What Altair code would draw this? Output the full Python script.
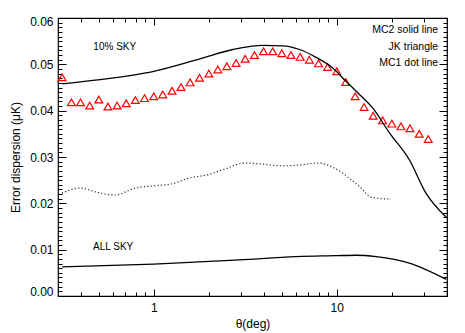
import altair as alt
import pandas as pd

# ---- data ----
jk_theta = [0.316, 0.355, 0.398, 0.447, 0.501, 0.562, 0.631, 0.708, 0.794, 0.891,
            1.0, 1.12, 1.26, 1.41, 1.58, 1.78, 2.0, 2.24, 2.51, 2.82,
            3.16, 3.55, 3.98, 4.47, 5.01, 5.62, 6.31, 7.08, 7.94, 8.91,
            10.0, 11.2, 12.6, 14.1, 15.8, 17.8, 20.0, 22.4, 25.1, 28.2, 31.6]
jk_value = [0.0472, 0.0418, 0.0418, 0.0411, 0.0424, 0.0409, 0.0411, 0.0416, 0.0423, 0.0427,
            0.0431, 0.0435, 0.0443, 0.0451, 0.0461, 0.0471, 0.0480, 0.0489, 0.0496, 0.0503,
            0.0512, 0.0520, 0.0528, 0.0528, 0.0524, 0.0520, 0.0516, 0.0510, 0.0502, 0.0494,
            0.0485, 0.0462, 0.0431, 0.0408, 0.0389, 0.0379, 0.0372, 0.0366, 0.0362, 0.0350, 0.0339]

mc2_theta = [0.316, 0.51, 1.0, 1.79, 2.71, 3.96, 5.08, 6.26, 7.71, 9.51, 11.25, 13.3, 15.7, 19.4, 24.9, 30.7, 39.6]
mc2_value = [0.0458, 0.0467, 0.0485, 0.0512, 0.0532, 0.0541, 0.0540, 0.0532, 0.0515, 0.0492, 0.0463,
             0.0435, 0.0406, 0.0352, 0.0294, 0.0222, 0.0170]

mc1_theta = [0.315, 0.397, 0.499, 0.616, 0.791, 1.016, 1.253, 1.543, 1.982, 2.445, 3.14, 3.87,
             4.98, 6.40, 7.88, 9.71, 11.98, 13.58, 15.39, 19.78]
mc1_value = [0.0222, 0.0233, 0.0223, 0.0218, 0.0233, 0.0238, 0.0242, 0.0254, 0.0262, 0.0274, 0.0287,
             0.0285, 0.0281, 0.0283, 0.0287, 0.0276, 0.0251, 0.0233, 0.0213, 0.0209]

all_theta = [0.316, 1.0, 2.95, 6.0, 9.94, 12.75, 16.4, 24.9, 39.6]
all_value = [0.0063, 0.0069, 0.0078, 0.0085, 0.0087, 0.0088, 0.0085, 0.0071, 0.0036]

x_major = [1, 10]
x_minor = [0.4, 0.5, 0.6, 0.7, 0.8, 0.9, 2, 3, 4, 5, 6, 7, 8, 9, 20, 30, 40]
y_major = [0.0, 0.01, 0.02, 0.03, 0.04, 0.05, 0.06]
y_minor = [round(i * 0.001, 3) for i in range(61) if i % 10 != 0]

left_text = ["10% SKY", "ALL SKY"]
left_theta = [0.468, 0.466]
left_value = [0.0538, 0.0106]
right_text = ["MC2 solid line", "JK triangle", "MC1 dot line"]
right_theta = [35.8, 35.8, 35.8]
right_value = [0.0574, 0.0538, 0.0502]

W, H = 389, 278
FONT = "Liberation Sans"

jk = pd.DataFrame({"theta": jk_theta, "value": jk_value})
mc2 = pd.DataFrame({"theta": mc2_theta, "value": mc2_value})
mc1 = pd.DataFrame({"theta": mc1_theta, "value": mc1_value})
alls = pd.DataFrame({"theta": all_theta, "value": all_value})
ltxt = pd.DataFrame({"label": left_text, "theta": left_theta, "value": left_value})
rtxt = pd.DataFrame({"label": right_text, "theta": right_theta, "value": right_value})

xs = alt.Scale(type="log", domain=[0.3, 40], nice=False)
ys = alt.Scale(domain=[0, 0.06], nice=False, zero=False)

common = dict(domain=False, grid=False, title="", labels=False, ticks=True,
              tickColor="black", tickWidth=1)

# axes
x_lab = alt.Axis(orient="bottom", values=x_major, format="d", ticks=False, tickSize=0, domain=False,
                 grid=False, labelFontSize=12, labelFont=FONT, labelColor="black", labelPadding=6,
                 title="θ(deg)", titleFont=FONT, titleFontSize=12, titleFontWeight="normal",
                 titlePadding=5, titleColor="black")
y_lab = alt.Axis(orient="left", values=y_major, format=".2f", ticks=False, tickSize=0, domain=False,
                 grid=False, labelFontSize=12, labelFont=FONT, labelColor="black", labelPadding=5,
                 labelFlush=True, labelFlushOffset=2,
                 title="Error dispersion (μK)", titleFont=FONT, titleFontSize=12,
                 titleFontWeight="normal", titlePadding=7, titleColor="black")

x_maj_b = alt.Axis(orient="top", offset=-H, values=x_major, tickSize=7, **common)
y_maj_l = alt.Axis(orient="right", offset=-W, values=y_major, tickSize=8, **common)
x_min_b = alt.Axis(orient="top", offset=-H, values=x_minor, tickSize=4, **common)
y_min_l = alt.Axis(orient="right", offset=-W, values=y_minor, tickSize=4, **common)
x_maj_t = alt.Axis(orient="bottom", offset=-H, values=x_major, tickSize=7, **common)
y_maj_r = alt.Axis(orient="left", offset=-W, values=y_major, tickSize=8, **common)
x_min_t = alt.Axis(orient="bottom", offset=-H, values=x_minor, tickSize=4, **common)
y_min_r = alt.Axis(orient="left", offset=-W, values=y_minor, tickSize=4, **common)

tri = alt.Chart(jk).mark_point(shape="triangle-up", filled=False, color="#ff0000", size=60,
                               strokeWidth=1.2, opacity=1).encode(
    x=alt.X("theta:Q", scale=xs, axis=x_lab),
    y=alt.Y("value:Q", scale=ys, axis=y_lab),
)

line_mc2 = alt.Chart(mc2).mark_line(color="black", strokeWidth=1.3, interpolate="monotone").encode(
    x=alt.X("theta:Q", scale=xs, axis=x_maj_b),
    y=alt.Y("value:Q", scale=ys, axis=y_maj_l),
)

line_mc1 = alt.Chart(mc1).mark_line(color="#333333", strokeWidth=1.2, strokeDash=[1.2, 2.2],
                                    interpolate="monotone").encode(
    x=alt.X("theta:Q", scale=xs, axis=x_min_b),
    y=alt.Y("value:Q", scale=ys, axis=y_min_l),
)

line_all = alt.Chart(alls).mark_line(color="black", strokeWidth=1.3, interpolate="monotone").encode(
    x=alt.X("theta:Q", scale=xs, axis=x_maj_t),
    y=alt.Y("value:Q", scale=ys, axis=y_maj_r),
)

txt_l = alt.Chart(ltxt).mark_text(align="left", baseline="middle", font=FONT, fontSize=10,
                                  color="black").encode(
    x=alt.X("theta:Q", scale=xs, axis=x_min_t),
    y=alt.Y("value:Q", scale=ys, axis=y_min_r),
    text="label:N",
)

txt_r = alt.Chart(rtxt).mark_text(align="right", baseline="middle", font=FONT, fontSize=10.5,
                                  color="black").encode(
    x=alt.X("theta:Q", scale=xs, axis=None),
    y=alt.Y("value:Q", scale=ys, axis=None),
    text="label:N",
)

chart = alt.layer(tri, line_mc2, line_mc1, line_all, txt_l, txt_r).resolve_axis(
    x="independent", y="independent"
).properties(
    width=W, height=H,
    autosize=alt.AutoSizeParams(type="none"),
    padding={"left": 50, "top": 10, "right": 10, "bottom": 36},
    background="white",
).configure_view(stroke="black", strokeWidth=1.2)

chart.save("out.html", embed_options={"renderer": "svg", "actions": False})
